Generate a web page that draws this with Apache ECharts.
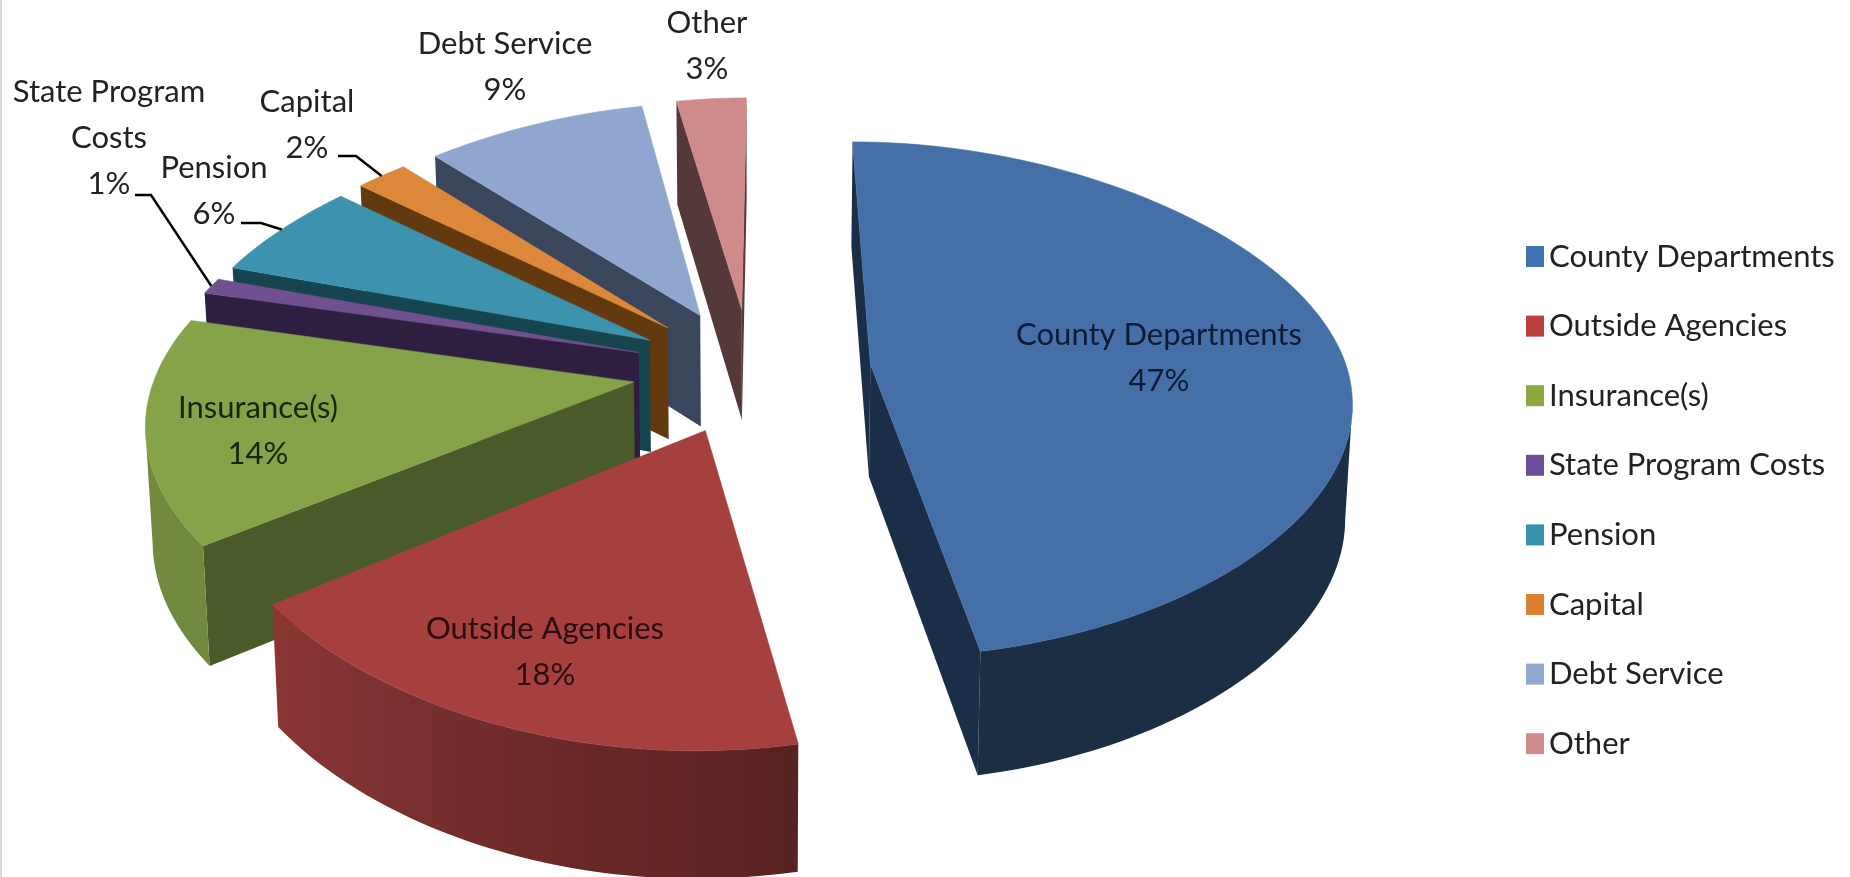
<!DOCTYPE html>
<html>
<head>
<meta charset="utf-8">
<title>Budget by category</title>
<style>html,body{margin:0;padding:0;background:#fff}#chart{width:1850px;height:877px}</style>
<script src="https://cdn.jsdelivr.net/npm/echarts@6/dist/echarts.min.js"></script>
</head>
<body>
<div id="chart"></div>
<script>
// Budget shares, in percent, clockwise from twelve o'clock
const categories = ['County Departments', 'Outside Agencies', 'Insurance(s)', 'State Program Costs', 'Pension', 'Capital', 'Debt Service', 'Other'];
const shares = [47, 18, 14, 1, 6, 2, 9, 3];

// Slice colours: top face, radial wall, label ink, legend swatch
const topColors = ['#4570a7', '#a5403f', '#87a34a', '#70508f', '#3d93ae', '#dc873a', '#8fa6ce', '#ce8b8a'];
const wallColors = ['#1a2e47', '#5a1f1f', '#4a5a28', '#2e1f40', '#16444f', '#63390f', '#3a465c', '#55383a'];
const inkColors = ['#0c1a33', '#2b0b0b', '#16240a', '#222222', '#222222', '#222222', '#222222', '#222222'];
const swatchColors = ['#3f72b2', '#b8403f', '#8da83f', '#6e4f9e', '#3793ad', '#dd8130', '#92a9cf', '#cf8c8b'];

// Painter's order: far slices first, the front ones last
const paintOrder = [1, 8, 7, 6, 5, 4, 3, 2];

// Where each slice's label sits, and the elbow of its leader line when it has one
const labelLines = [['County Departments'], ['Outside Agencies'], ['Insurance(s)'], ['State Program', 'Costs'], ['Pension'], ['Capital'], ['Debt Service'], ['Other']];
const labelCentres = [[1159, 358], [545, 652], [258, 431], [109, 138], [214, 191], [307, 125], [505, 67], [707, 46]];
const leaderStarts = [null, null, null, [[135, 195], [151, 195]], [[241, 223], [261, 223]], [[338, 156], [356, 156]], null, null];

// Perspective view of the exploded disc
const view = { cx: 752, cy: 362, rx: 477, ry: 252, persp: 0.17, explode: 0.25, depth: 113, step: 1.5 };
const total = shares.reduce((a, b) => a + b, 0);
const rad = d => d * Math.PI / 180;

function project(u, v) {
  const w = 1 / (1 - view.persp * v);
  const wx = 1 + 0.1477 * v - 0.0227 * v * v;
  const drift = (wx > 1 ? -40 : -15) * (wx - 1);
  return { x: view.cx + view.rx * u * wx + drift, y: view.cy + view.ry * v * w + 8 * (1 - v * v), w };
}
function lower(p) {
  return [p.x - (p.x - view.cx) * 0.012, p.y + view.depth * (1 + 0.5 * (p.w - 1))];
}
const xy = p => [p.x, p.y];

// Brightness of the curved wall as it turns around the disc
function wallLight(a) {
  const stops = [[0, 0.38], [90, 0.38], [169.2, 0.53], [234, 0.84], [360, 0.85]];
  for (let i = 1; i < stops.length; i++) {
    if (a <= stops[i][0]) {
      const t = (a - stops[i - 1][0]) / (stops[i][0] - stops[i - 1][0]);
      return stops[i - 1][1] + t * (stops[i][1] - stops[i - 1][1]);
    }
  }
  return 0.85;
}
function shade(hex, f) {
  const n = parseInt(hex.slice(1), 16);
  return 'rgb(' + [(n >> 16) & 255, (n >> 8) & 255, n & 255].map(c => Math.round(c * f)).join(',') + ')';
}
function wall(points, fill) {
  return { type: 'polygon', shape: { points }, style: { fill, stroke: 'none' } };
}

function renderSlice(index, value) {
  const before = shares.slice(0, index).reduce((a, b) => a + b, 0);
  const a0 = before / total * 360;
  const a1 = a0 + value / total * 360;
  const mid = rad((a0 + a1) / 2);
  const ox = view.explode * Math.sin(mid);
  const oy = -view.explode * Math.cos(mid);
  const rim = a => project(ox + Math.sin(rad(a)), oy - Math.cos(rad(a)));
  const apex = project(ox, oy);

  const angles = [];
  for (let a = a0; a < a1; a += view.step) angles.push(a);
  angles.push(a1);
  const arc = angles.map(rim);

  const children = [];
  const first = arc[0];
  const last = arc[arc.length - 1];
  // Radial walls, only where they face the viewer
  if (first.x < apex.x) children.push(wall([xy(apex), xy(first), lower(first), lower(apex)], wallColors[index]));
  if (apex.x < last.x) children.push(wall([xy(last), xy(apex), lower(apex), lower(last)], wallColors[index]));
  // Curved wall: the front-facing run of the rim, shaded along x
  const front = [];
  for (let i = 0; i < arc.length; i++) {
    const goesLeft = (i + 1 < arc.length && arc[i + 1].x < arc[i].x) || (i > 0 && arc[i].x < arc[i - 1].x);
    if (goesLeft) front.push({ p: arc[i], a: angles[i] });
  }
  if (front.length > 1) {
    const xMax = front[0].p.x;
    const xMin = front[front.length - 1].p.x;
    // The large slice facing right stays almost flat in tone
    const light = a => index === 0 ? Math.min(wallLight(a), 0.41) : wallLight(a);
    const stops = front.filter((f, i) => i % 4 === 0 || i === front.length - 1)
      .map(f => ({ offset: (f.p.x - xMin) / (xMax - xMin), color: shade(topColors[index], light(f.a)) }))
      .reverse();
    children.push({
      type: 'polygon',
      shape: { points: front.map(f => xy(f.p)).concat(front.slice().reverse().map(f => lower(f.p))) },
      style: { fill: new echarts.graphic.LinearGradient(xMin, 0, xMax, 0, stops, true), stroke: 'none' }
    });
  }
  // Top face
  children.push({
    type: 'polygon',
    shape: { points: [xy(apex)].concat(arc.map(xy)) },
    style: { fill: topColors[index], stroke: topColors[index], lineWidth: 0.6 }
  });
  // Leader line out to the rim at mid-angle
  if (leaderStarts[index]) {
    const tip = rim((a0 + a1) / 2);
    children.push({
      type: 'polyline',
      shape: { points: leaderStarts[index].concat([[tip.x, tip.y]]) },
      style: { fill: null, stroke: '#000', lineWidth: 2.5 }
    });
  }
  // Category name and percentage
  const centre = labelCentres[index];
  children.push({
    type: 'text',
    z2: 10,
    style: {
      x: centre[0], y: centre[1],
      text: labelLines[index].concat(value + '%').join('\n'),
      align: 'center', verticalAlign: 'middle',
      fontFamily: 'Lato', fontSize: 31, lineHeight: 46,
      fill: inkColors[index]
    }
  });
  return { type: 'group', children };
}

const chart = echarts.init(document.getElementById('chart'), null, { renderer: 'canvas' });
chart.setOption({
  animation: false,
  backgroundColor: '#ffffff',
  legend: {
    orient: 'vertical',
    left: 1521,
    top: 236,
    itemWidth: 18,
    itemHeight: 21,
    itemGap: 38.6,
    icon: 'rect',
    selectedMode: false,
    textStyle: { fontFamily: 'Lato', fontSize: 31, lineHeight: 30, color: '#222222' },
    data: categories
  },
  graphic: [{ type: 'rect', shape: { x: 0, y: 0, width: 2, height: 877 }, style: { fill: '#d9d9d9' }, silent: true }],
  series: categories.map((name, i) => ({
    type: 'custom',
    name,
    coordinateSystem: 'none',
    z: paintOrder[i] + 2,
    silent: true,
    itemStyle: { color: swatchColors[i] },
    data: [shares[i]],
    renderItem: (params, api) => renderSlice(i, api.value(0))
  }))
});
</script>
</body>
</html>
